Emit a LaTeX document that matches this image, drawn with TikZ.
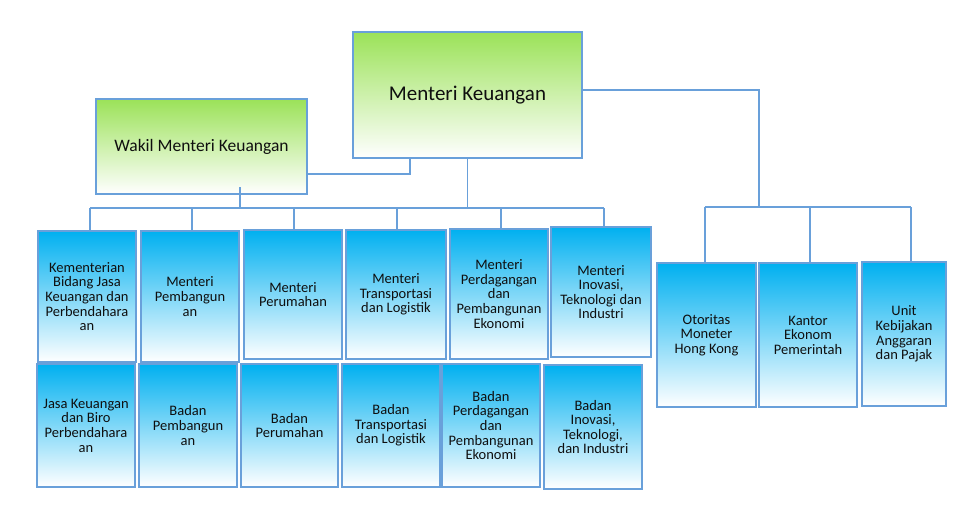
\documentclass[tikz,border=0pt]{standalone}
\usepackage{fontspec}
\setmainfont{Carlito}
\definecolor{bord}{RGB}{105,160,218}
\definecolor{bluetop}{RGB}{0,176,240}
\definecolor{greentop}{RGB}{155,226,88}
\definecolor{txt}{RGB}{15,15,15}
\newcommand\orgbox[7]{%
  \node[#1, minimum width={#5-#3}, minimum height={#6-#4}] (#2) at ({(#3+#5)/2},{(#4+#6)/2}) {#7};}
\begin{document}
\begin{tikzpicture}[x=1pt,y=-1pt,
  box/.style={draw=bord, line width=1.7pt, inner sep=0pt, align=center, text=txt},
  bluebox/.style={box, top color=bluetop, bottom color=white, font=\fontsize{14.5}{14.6}\selectfont},
  greenbox/.style={box, top color=greentop, bottom color=white},
  conn/.style={draw=bord, line width=1.5pt}]
\useasboundingbox[fill=white] (0,0) rectangle (960,516);

% junction coordinates
\coordinate (busL) at (90,208);
\coordinate (busR) at (604,208);
\coordinate (wkj) at (410,174);
\coordinate (wkd) at (240,187);
\coordinate (rj) at (759,90);
\coordinate (rbusL) at (705,207);
\coordinate (rbusR) at (911,207);

% boxes
\orgbox{greenbox, font=\fontsize{21}{24}\selectfont}{MK}{353}{32}{582}{158}{Menteri Keuangan}
\orgbox{greenbox, font=\fontsize{17.5}{20}\selectfont}{WK}{96}{99}{307}{194}{Wakil Menteri Keuangan}

\orgbox{bluebox}{T1}{38}{231}{136}{362}{Kementerian\\Bidang Jasa\\Keuangan dan\\Perbendahara\\an}
\orgbox{bluebox}{T2}{141}{231}{239}{362}{Menteri\\Pembangun\\an}
\orgbox{bluebox}{T3}{244}{230}{342}{359}{Menteri\\Perumahan}
\orgbox{bluebox}{T4}{346}{230}{446}{359}{Menteri\\Transportasi\\dan Logistik}
\orgbox{bluebox}{T5}{450}{229}{548}{359}{Menteri\\Perdagangan\\dan\\Pembangunan\\Ekonomi}
\orgbox{bluebox}{T6}{551}{227}{651}{357}{Menteri\\Inovasi,\\Teknologi dan\\Industri}

\orgbox{bluebox}{B1}{37}{364}{135}{487}{Jasa Keuangan\\dan Biro\\Perbendahara\\an}
\orgbox{bluebox}{B2}{139}{364}{237}{487}{Badan\\Pembangun\\an}
\orgbox{bluebox}{B3}{241}{364}{338}{487}{Badan\\Perumahan}
\orgbox{bluebox}{B4}{342}{364}{440}{487}{Badan\\Transportasi\\dan Logistik}
\orgbox{bluebox}{B5}{442}{364}{540}{487}{Badan\\Perdagangan\\dan\\Pembangunan\\Ekonomi}
\orgbox{bluebox}{B6}{544}{365}{642}{489}{Badan\\Inovasi,\\Teknologi,\\dan Industri}

\orgbox{bluebox}{R1}{657}{263}{756}{407}{Otoritas\\Moneter\\Hong Kong}
\orgbox{bluebox}{R2}{759}{263}{857}{407}{Kantor\\Ekonom\\Pemerintah}
\orgbox{bluebox}{R3}{862}{262}{946}{406}{Unit\\Kebijakan\\Anggaran\\dan Pajak}

% left tree
\draw[conn] (busL) -- (busR);
\draw[conn] (MK.south) -- (MK.south |- busL);
\draw[conn] (WK.east |- wkj) -- (wkj) -- (wkj |- MK.south);
\draw[conn] (wkd) -- (wkd |- busL);
\draw[conn] (90,208) -- (90,208 |- T1.north);
\draw[conn] (192,208) -- (192,208 |- T2.north);
\draw[conn] (294,208) -- (294,208 |- T3.north);
\draw[conn] (397,208) -- (397,208 |- T4.north);
\draw[conn] (501,208) -- (501,208 |- T5.north);
\draw[conn] (busR) -- (busR |- T6.north);

% right tree
\draw[conn] (MK.east |- rj) -- (rj) -- (rj |- rbusL);
\draw[conn] (rbusL) -- (rbusR);
\draw[conn] (rbusL) -- (rbusL |- R1.north);
\draw[conn] (810,207) -- (810,207 |- R2.north);
\draw[conn] (rbusR) -- (rbusR |- R3.north);
\end{tikzpicture}
\end{document}
